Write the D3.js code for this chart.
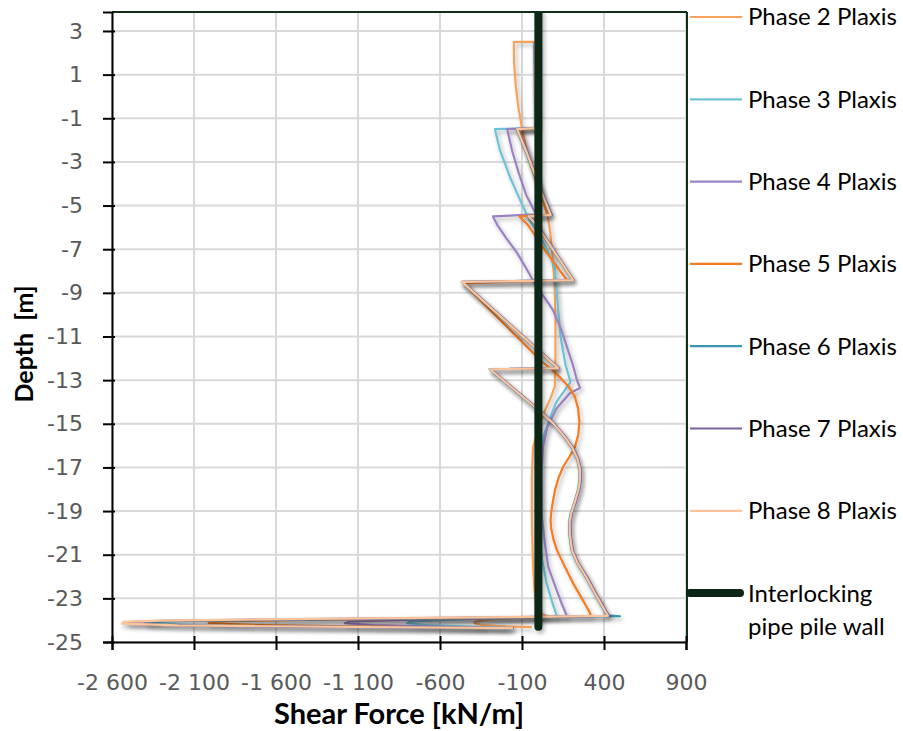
<!DOCTYPE html>
<html>
<head>
<meta charset="utf-8">
<script src="https://cdn.jsdelivr.net/npm/d3@7"></script>
<style>
  body { margin: 0; background: #fff; }
  svg { display: block; }
</style>
</head>
<body>
<svg id="chart" width="903" height="731"></svg>
<script>
// series: [depth (m), shear force (kN/m)]
const phase2 = [[2.5,-10],[2.5,-150],[1.5,-148],[0.5,-138],[-0.5,-122],[-1.45,-100],[-2.5,-70],[-3.5,-30],[-4.5,15],[-5.4,55],[-6.2,72],[-7.2,85],[-8.5,98],[-10,104],[-12,104],[-13.3,100],[-13.9,70],[-14.4,40],[-15.2,0],[-16.1,-33],[-17.5,-40],[-19,-40],[-21,-35],[-22.5,-25],[-23.4,-12],[-23.7,15],[-23.82,60],[-23.9,-120],[-23.98,-300],[-24.06,-385],[-24.14,-390],[-24.22,-340],[-24.28,-200],[-24.32,-40]];
const phase3 = [[2.5,-15],[0.5,-12],[-1.45,-10],[-1.5,-265],[-2.45,-235],[-3.7,-173],[-4.6,-120],[-5.43,-70],[-5.9,-35],[-6.3,0],[-6.8,38],[-7.2,65],[-7.86,100],[-9,112],[-11,135],[-12.3,165],[-13,193],[-13.1,195],[-14,110],[-14.83,65],[-15.6,30],[-16.5,15],[-18,8],[-20,10],[-21.2,22],[-22.3,50],[-23.2,85],[-23.82,113],[-23.9,-150],[-23.98,-520],[-24.06,-780],[-24.14,-800],[-24.22,-680],[-24.3,-380],[-24.36,-160]];
const phase4 = [[2.5,-25],[0.5,-22],[-1.45,-20],[-1.5,-190],[-2.5,-160],[-3.5,-120],[-4.5,-75],[-5.4,-15],[-5.5,-277],[-5.9,-250],[-6.5,-195],[-7.17,-130],[-8,-65],[-8.73,-10],[-9.3,45],[-9.79,89],[-10.7,140],[-11.48,174],[-12.3,210],[-13,235],[-13.36,254],[-13.59,193],[-14.3,110],[-15.15,55],[-16.07,28],[-17.5,18],[-19.3,22],[-20.5,40],[-21.56,60],[-22.5,105],[-23.2,140],[-23.82,174],[-23.9,-200],[-23.98,-750],[-24.06,-1150],[-24.14,-1180],[-24.22,-1000],[-24.3,-550],[-24.36,-200]];
const phase5 = [[2.5,-20],[0.5,-18],[-1.45,-15],[-1.5,-120],[-2.5,-75],[-3.5,-30],[-4.5,15],[-5.43,55],[-5.5,-115],[-5.9,-63],[-7.2,55],[-8.42,174],[-8.55,-460],[-12.2,28],[-12.5,80],[-12.86,130],[-13.3,185],[-13.77,223],[-14.3,242],[-14.9,250],[-15.5,243],[-16.07,223],[-16.5,190],[-16.98,150],[-17.5,122],[-18.04,101],[-18.5,90],[-18.95,80],[-19.41,74],[-19.8,78],[-20.3,92],[-20.79,113],[-21.5,158],[-22.3,211],[-23,265],[-23.67,315],[-23.82,318],[-23.9,-300],[-23.98,-1300],[-24.06,-1980],[-24.14,-2010],[-24.22,-1700],[-24.3,-900],[-24.36,-320]];
const phase6 = [[2.5,-22],[0.5,-20],[-1.45,-17],[-1.5,-133],[-2.5,-78],[-3.5,-28],[-4.5,22],[-5.43,72],[-5.5,-63],[-5.9,-12],[-8.42,208],[-8.5,-468],[-12.45,117],[-12.5,-298],[-14.23,-24],[-14.97,86],[-15.5,147],[-16.07,202],[-16.6,235],[-17.12,251],[-17.6,250],[-18,242],[-18.6,219],[-19.1,197],[-19.5,187],[-20.1,189],[-20.8,202],[-21.4,237],[-22,287],[-22.9,352],[-23.78,420],[-23.82,498],[-23.88,-200],[-23.96,-1300],[-24.04,-2200],[-24.1,-2400],[-24.18,-2380],[-24.26,-1900],[-24.32,-1000],[-24.36,-170]];
const phase7 = [[2.5,-18],[0.5,-16],[-1.45,-13],[-1.5,-125],[-2.5,-70],[-3.5,-20],[-4.5,30],[-5.43,82],[-5.5,-55],[-5.9,-4],[-8.42,215],[-8.5,-462],[-12.45,125],[-12.5,-290],[-14.23,-16],[-14.97,94],[-15.5,155],[-16.07,210],[-16.6,243],[-17.12,259],[-17.6,258],[-18,250],[-18.6,227],[-19.1,205],[-19.5,195],[-20.1,197],[-20.8,210],[-21.4,245],[-22,296],[-22.9,361],[-23.8,430],[-23.87,-200],[-23.95,-1400],[-24.03,-2300],[-24.09,-2500],[-24.17,-2500],[-24.25,-2150],[-24.31,-1250],[-24.36,-150]];
const phase8 = [[2.5,-20],[0.5,-18],[-1.45,-15],[-1.5,-130],[-2.5,-75],[-3.5,-25],[-4.5,25],[-5.43,75],[-5.5,-60],[-5.9,-9],[-8.42,211],[-8.5,-466],[-12.45,120],[-12.5,-295],[-14.23,-21],[-14.97,89],[-15.5,150],[-16.07,205],[-16.6,238],[-17.12,254],[-17.6,253],[-18,245],[-18.6,222],[-19.1,200],[-19.5,190],[-20.1,192],[-20.8,205],[-21.4,240],[-22,290],[-22.9,355],[-23.8,424],[-23.86,-200],[-23.94,-1400],[-24.02,-2300],[-24.08,-2530],[-24.16,-2540],[-24.24,-2200],[-24.3,-1300],[-24.36,-155]];
const pileWall = [[3.87,0],[-24.3,0]];

const seriesNames = ["Phase 2 Plaxis","Phase 3 Plaxis","Phase 4 Plaxis","Phase 5 Plaxis","Phase 6 Plaxis","Phase 7 Plaxis","Phase 8 Plaxis"];
const seriesData = [phase2, phase3, phase4, phase5, phase6, phase7, phase8];
const seriesColors = ["#f7a35c","#6cc3d6","#9a83c4","#f47b20","#3597b0","#7b62a3","#fbc49a"];
const wallName = ["Interlocking", "pipe pile wall"];

const xTicks = [-2600,-2100,-1600,-1100,-600,-100,400,900];
const yTicks = [3,1,-1,-3,-5,-7,-9,-11,-13,-15,-17,-19,-21,-23,-25];

const svg = d3.select("#chart");
const pLeft = 112, pRight = 686, pTop = 12, pBottom = 642;

const x = d3.scaleLinear().domain([-2600, 900]).range([pLeft, pRight]);
const y = d3.scaleLinear().domain([-25, 3.87]).range([pBottom, pTop]);

const loc = d3.formatLocale({decimal: ",", thousands: "\u00a0", grouping: [3], currency: ["", ""], minus: "-"});
const fmt = loc.format(",d");

// shadow like the excel line effect
const defs = svg.append("defs");
defs.append("filter").attr("id", "shadow")
  .attr("filterUnits", "userSpaceOnUse")
  .attr("x", 0).attr("y", 0).attr("width", 903).attr("height", 731)
  .append("feDropShadow")
    .attr("dx", 2).attr("dy", 3).attr("stdDeviation", 2.2)
    .attr("flood-color", "#000").attr("flood-opacity", 0.3);
defs.append("clipPath").attr("id", "plotclip")
  .append("rect").attr("x", pLeft).attr("y", pTop).attr("width", pRight - pLeft).attr("height", pBottom - pTop);

// grid
svg.append("g").selectAll("line").data(xTicks).enter().append("line")
  .attr("x1", d => x(d)).attr("x2", d => x(d)).attr("y1", pTop).attr("y2", pBottom)
  .attr("stroke", "#d9d9d9").attr("stroke-width", 2);
svg.append("g").selectAll("line").data(yTicks).enter().append("line")
  .attr("x1", pLeft).attr("x2", pRight).attr("y1", d => y(d)).attr("y2", d => y(d))
  .attr("stroke", "#d9d9d9").attr("stroke-width", 2);

// frame top / right
svg.append("line").attr("x1", pLeft).attr("x2", pRight + 1).attr("y1", pTop).attr("y2", pTop)
  .attr("stroke", "#10301a").attr("stroke-width", 2);
svg.append("line").attr("x1", pRight + 1).attr("x2", pRight + 1).attr("y1", pTop).attr("y2", pBottom)
  .attr("stroke", "#10301a").attr("stroke-width", 2);

// axes
const yAxis = svg.append("g").attr("transform", "translate(" + pLeft + ",0)")
  .call(d3.axisLeft(y).tickValues(yTicks).tickSize(9).tickPadding(20).tickFormat(fmt));
yAxis.selectAll(".tick line").attr("x1", 3).attr("stroke-width", 2);
yAxis.select(".domain").attr("stroke-width", 2);
yAxis.selectAll("text").attr("fill", "#595959").style("font", "22px 'DejaVu Sans'");

const xAxis = svg.append("g").attr("transform", "translate(0," + pBottom + ")")
  .call(d3.axisBottom(x).tickValues(xTicks).tickSize(8).tickPadding(24).tickFormat(fmt));
xAxis.selectAll(".tick line").attr("y1", -6).attr("stroke-width", 2);
xAxis.select(".domain").attr("stroke-width", 2);
xAxis.selectAll("text").attr("fill", "#595959").style("font", "22px 'DejaVu Sans'");

// series
const line = d3.line().x(d => x(d[1])).y(d => y(d[0]));
const plot = svg.append("g").attr("clip-path", "url(#plotclip)");
plot.selectAll("path.phase").data(seriesData).enter().append("path")
  .attr("class", "phase")
  .attr("d", line)
  .attr("fill", "none")
  .attr("stroke", (d, i) => seriesColors[i])
  .attr("stroke-width", 2.2)
  .attr("stroke-linejoin", "round")
  .attr("filter", "url(#shadow)");
plot.append("path").datum(pileWall)
  .attr("d", line)
  .attr("fill", "none")
  .attr("stroke", "#0b2614")
  .attr("stroke-width", 8)
  .attr("stroke-linecap", "round")
  .attr("filter", "url(#shadow)");

// titles
svg.append("text").attr("x", (pLeft + pRight) / 2).attr("y", 724)
  .attr("text-anchor", "middle").style("font", "bold 29px Lato").attr("fill", "#000")
  .text("Shear Force [kN/m]");
svg.append("text").attr("transform", "translate(33,344) rotate(-90)")
  .attr("text-anchor", "middle").style("font", "bold 25px Lato").attr("fill", "#000")
  .attr("xml:space", "preserve")
  .text("Depth  [m]");

// legend
const legY = i => 17 + i * 82.3;
const leg = svg.append("g");
seriesNames.forEach((name, i) => {
  leg.append("line").attr("x1", 690).attr("x2", 742).attr("y1", legY(i)).attr("y2", legY(i))
    .attr("stroke", seriesColors[i]).attr("stroke-width", 2.2);
  leg.append("text").attr("x", 748).attr("y", legY(i)).attr("dy", "0.35em")
    .style("font", "24px Lato").attr("fill", "#000").text(name);
});
leg.append("line").attr("x1", 690).attr("x2", 740).attr("y1", legY(7)).attr("y2", legY(7))
  .attr("stroke", "#0b2614").attr("stroke-width", 8).attr("stroke-linecap", "round");
const wt = leg.append("text").attr("x", 748).attr("y", legY(7)).attr("dy", "0.35em")
  .style("font", "24px Lato").attr("fill", "#000");
wt.append("tspan").attr("x", 748).text(wallName[0]);
wt.append("tspan").attr("x", 748).attr("dy", 33).text(wallName[1]);
</script>
</body>
</html>
